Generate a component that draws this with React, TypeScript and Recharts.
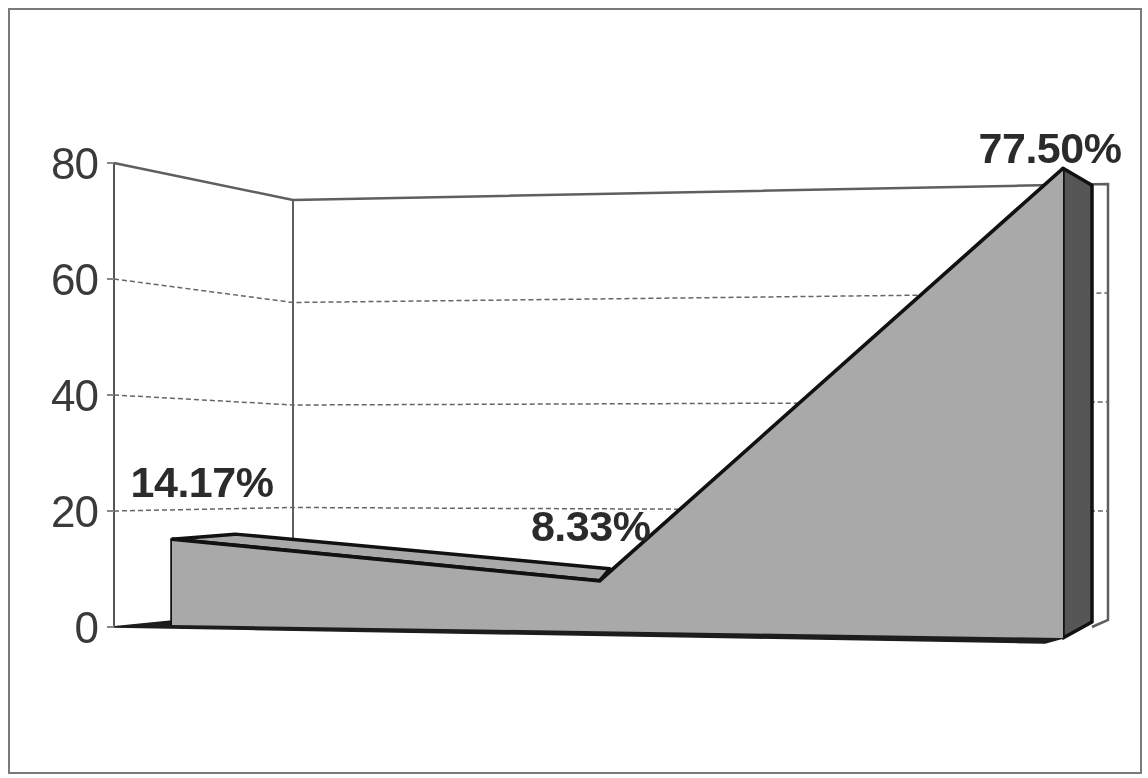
import { ComposedChart, Area, Line, XAxis, YAxis, Customized } from 'recharts';

const slots = [0, 0.96, 2];
const shares = [14.17, 8.33, 77.5];
const yTicks = [0, 20, 40, 60, 80];

const data = slots.map((slot, i) => ({ slot, share: shares[i] }));

const WIDTH = 1148;
const HEIGHT = 778;
const PLOT = { left: 114, right: 1108, top: 163, bottom: 627 };
const X_PAD = { left: 58, right: 45 };
const UNIT = (PLOT.bottom - PLOT.top) / 80;

/** 3D 투영 보조 함수: 꾸밈 요소는 차트 축과 같은 값에서 계산 */
const slotX = (slot: number) =>
  PLOT.left + X_PAD.left + (slot / 2) * (PLOT.right - X_PAD.right - PLOT.left - X_PAD.left);
const flatY = (v: number) => PLOT.bottom - v * UNIT;
const SKEW = 0.01459;
const STRETCH = 1.0448;
const SHIFT = -32.6;
const frontY = (x: number, y: number) => SKEW * x + STRETCH * y + SHIFT;
const backLeftY = (v: number) => 610 - v * 5.125;
const backRightY = (v: number) => 620 - v * 5.45;

const DEPTH = [
  [63, -5],
  [10, -12],
  [29, 17],
];

const frontPoint = (i: number) => {
  const x = slotX(slots[i]);
  return [x, frontY(x, flatY(shares[i]))];
};
const backPoint = (i: number) => {
  const [x, y] = frontPoint(i);
  return [x + DEPTH[i][0], y + DEPTH[i][1]];
};
const pts = (list: number[][]) => list.map((p) => p.join(',')).join(' ');

const LABEL_SHIFT = [
  [30, -48],
  [-9, -38],
  [-13, -15],
];

/** 뒤쪽 벽과 눈금선 */
function Walls() {
  const wall = '#5f5f5f';
  return (
    <g fill="none">
      <polyline points={pts([[PLOT.left, flatY(80)], [293, backLeftY(80)], [PLOT.right, backRightY(80)], [PLOT.right, backRightY(0)], [1092, 627]])} stroke={wall} strokeWidth={2.5} />
      <line x1={293} y1={backLeftY(80)} x2={293} y2={540} stroke={wall} strokeWidth={2} />
      {yTicks
        .filter((v) => v > 0 && v < 80)
        .map((v) => (
          <polyline
            key={v}
            points={pts([[PLOT.left, flatY(v)], [293, backLeftY(v)], [PLOT.right, backRightY(v)]])}
            stroke="#666"
            strokeWidth={1.5}
            strokeDasharray="5 3"
          />
        ))}
    </g>
  );
}

/** 영역 앞쪽의 바닥, 윗면, 옆면 */
function Solid() {
  const [f0, f1, f2] = [frontPoint(0), frontPoint(1), frontPoint(2)];
  const [b0, b1, b2] = [backPoint(0), backPoint(1), backPoint(2)];
  const baseL = frontY(f0[0], flatY(0));
  const baseR = frontY(f2[0], flatY(0));
  return (
    <g strokeLinejoin="round">
      <polygon points={pts([f0, b0, b1, f1])} fill="#a9a9a9" stroke="#111" strokeWidth={3.5} />
      <polygon points={pts([f2, b2, [b2[0], baseR - 16], [f2[0], baseR]])} fill="#565656" stroke="#111" strokeWidth={3.5} />
      <polygon points={pts([[PLOT.left - 2, flatY(0)], [f0[0], baseL - 4], [f0[0], baseL], [f2[0], baseR], [f2[0] - 18, baseR + 5]])} fill="#1d1d1d" stroke="#1d1d1d" strokeWidth={1.5} />
      <line x1={f0[0]} y1={f0[1]} x2={f0[0]} y2={baseL} stroke="#111" strokeWidth={3.5} />
    </g>
  );
}

function ShareLabel({ x, y, value, index }: { x?: number; y?: number; value?: number; index?: number }) {
  const i = index ?? 0;
  return (
    <text
      x={(x ?? 0) + LABEL_SHIFT[i][0]}
      y={(y ?? 0) + LABEL_SHIFT[i][1]}
      textAnchor="middle"
      fontFamily="Liberation Sans"
      fontWeight="bold"
      fontSize={43}
      letterSpacing={-0.5}
      fill="#2b2b2b"
    >
      {(value ?? 0).toFixed(2)}%
    </text>
  );
}

export default function App() {
  return (
    <div style={{ position: 'absolute', left: 0, top: 0, width: WIDTH, height: HEIGHT, background: '#fff', overflow: 'hidden' }}>
      <style>{`.skewed-area { transform: matrix(1, ${SKEW}, 0, ${STRETCH}, 0, ${SHIFT}); }`}</style>
      <div style={{ position: 'absolute', left: 8, top: 8, width: 1130, height: 762, border: '2px solid #7a7a7a' }} />
      <div style={{ position: 'absolute', left: 0, top: 0, filter: 'blur(0.7px)' }}>
        <ComposedChart
          width={WIDTH}
          height={HEIGHT}
          data={data}
          margin={{ left: 0, top: PLOT.top, right: WIDTH - PLOT.right, bottom: HEIGHT - PLOT.bottom }}
        >
          <XAxis dataKey="slot" type="number" domain={[0, 2]} hide padding={X_PAD} />
          <YAxis
            width={PLOT.left}
            domain={[0, 80]}
            ticks={yTicks}
            interval={0}
            tick={{ fontFamily: 'Liberation Sans', fontSize: 44, fill: '#3a3a3a', letterSpacing: -1 }}
            tickSize={7}
            tickMargin={9}
            axisLine={{ stroke: '#555', strokeWidth: 2 }}
            tickLine={{ stroke: '#888', strokeWidth: 2 }}
          />
          <Customized component={Walls} />
          <Area
            className="skewed-area"
            dataKey="share"
            type="linear"
            fill="#a9a9a9"
            fillOpacity={1}
            stroke="#111"
            strokeWidth={3.5}
            dot={false}
            activeDot={false}
            isAnimationActive={false}
          />
          <Customized component={Solid} />
          <Line
            dataKey="share"
            stroke="none"
            dot={false}
            activeDot={false}
            isAnimationActive={false}
            label={(props: any) => <ShareLabel {...props} />}
          />
        </ComposedChart>
      </div>
    </div>
  );
}
